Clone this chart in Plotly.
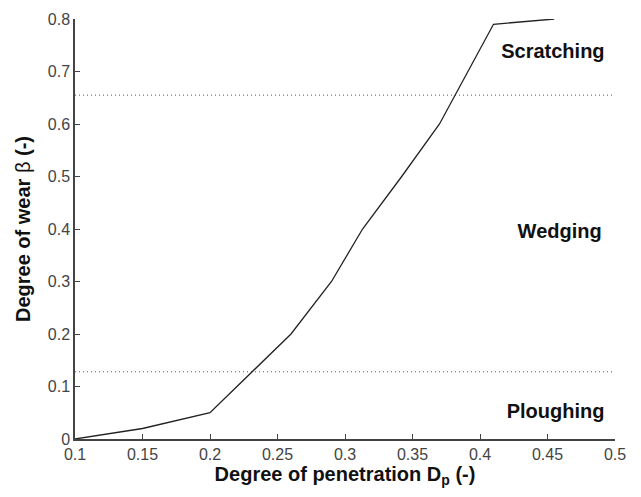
import plotly.graph_objects as go

# Data
penetration = [0.10, 0.15, 0.20, 0.26, 0.29, 0.313, 0.342, 0.37, 0.41, 0.43, 0.455]
wear = [0.0, 0.02, 0.05, 0.20, 0.30, 0.40, 0.50, 0.60, 0.79, 0.795, 0.80]

boundary_x = [0.1, 0.5]
upper_boundary = 0.655
lower_boundary = 0.128

region_labels = ["Scratching", "Wedging", "Ploughing"]
region_x = [0.454, 0.459, 0.456]
region_y = [0.735, 0.392, 0.05]

x_ticks = [0.1, 0.15, 0.2, 0.25, 0.3, 0.35, 0.4, 0.45, 0.5]
x_ticktext = ["0.1", "0.15", "0.2", "0.25", "0.3", "0.35", "0.4", "0.45", "0.5"]
y_ticks = [0, 0.1, 0.2, 0.3, 0.4, 0.5, 0.6, 0.7, 0.8]
y_ticktext = ["0", "0.1", "0.2", "0.3", "0.4", "0.5", "0.6", "0.7", "0.8"]

FONT = "Liberation Sans, Arial, sans-serif"

fig = go.Figure()

for yb in [upper_boundary, lower_boundary]:
    fig.add_trace(go.Scatter(
        x=boundary_x, y=[yb, yb], mode="lines",
        line=dict(color="#555555", width=1, dash="1px,3px"),
        showlegend=False, hoverinfo="skip"))

fig.add_trace(go.Scatter(
    x=penetration, y=wear, mode="lines",
    line=dict(color="#222222", width=1.3),
    showlegend=False))

fig.add_trace(go.Scatter(
    x=region_x, y=region_y, mode="text", text=region_labels,
    textposition="middle center",
    textfont=dict(family=FONT, size=20, color="#111111", weight="bold"),
    showlegend=False, hoverinfo="skip"))

fig.update_layout(
    width=641, height=497,
    margin=dict(l=75, r=26, t=19, b=58),
    paper_bgcolor="white", plot_bgcolor="white",
    font=dict(family=FONT, color="#333333"),
    xaxis=dict(
        range=[0.1, 0.5], tickvals=x_ticks, ticktext=x_ticktext,
        showgrid=False, zeroline=False,
        showline=True, linecolor="#444444", linewidth=1.5,
        ticks="inside", ticklen=5, tickcolor="#444444", tickwidth=1,
        tickfont=dict(family=FONT, size=16, color="#444444"),
        title=dict(text="<b>Degree of penetration D<sub>p</sub> (-)</b>",
                   font=dict(family=FONT, size=20, color="#111111"), standoff=4),
        automargin=False,
    ),
    yaxis=dict(
        range=[0, 0.8], tickvals=y_ticks, ticktext=y_ticktext,
        showgrid=False, zeroline=False,
        showline=True, linecolor="#444444", linewidth=1.5,
        ticks="inside", ticklen=5, tickcolor="#444444", tickwidth=1,
        tickfont=dict(family=FONT, size=16, color="#444444"),
        title=dict(text="<b>Degree of wear </b>β<b> (-)</b>",
                   font=dict(family=FONT, size=20, color="#111111"), standoff=12),
        automargin=False,
    ),
)

fig.write_html("out.html")
